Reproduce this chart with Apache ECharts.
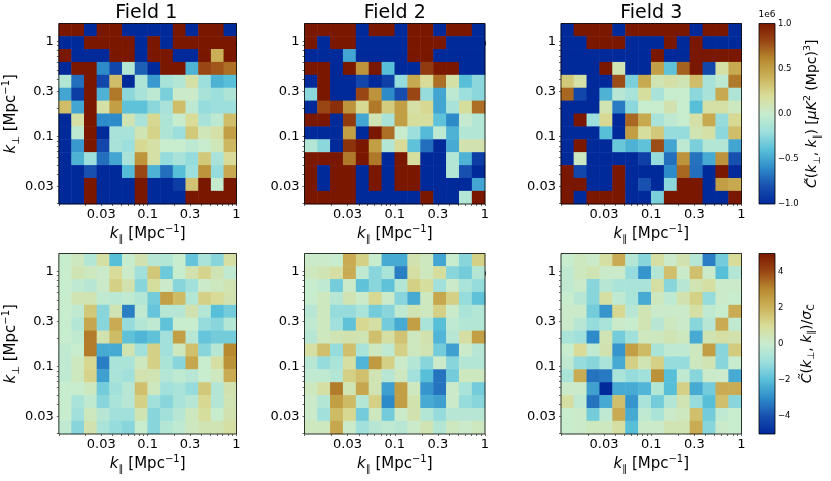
<!DOCTYPE html>
<html>
<head>
    <meta charset="utf-8">
    <script src="https://cdn.jsdelivr.net/npm/echarts@6/dist/echarts.min.js"></script>
    <style>
        html, body { margin: 0; padding: 0; background: #fff; }
        #main { width: 831px; height: 481px; }
    </style>
</head>
<body>
<div id="main"></div>
<script type="text/javascript">
    // k bins (log10 ranges of the axes) and tick values
    var kParRange = [0.01, 1];
    var kPerpRange = [0.0196, 1.54];
    var kTicks = [0.03, 0.1, 0.3, 1];
    var fieldNames = ['Field 1', 'Field 2', 'Field 3'];
    var ampTicks = [-1, -0.5, 0, 0.5, 1];      // x 1e6
    var snrTicks = [-4, -2, 0, 2, 4];

    // C~(k_perp, k_par) in units of 1e6 uK^2 Mpc^3, rows from high k_perp to low
    var field1Amp = [
        [1, 1, -1, 1, 1, -1, -1, -1, -1, 1, -1, 1, 1, -1],
        [-1, -1, 1, 1, 1, 1, -1, 1, -1, 1, 1, 1, 1, 1],
        [1, -1, -1, -1, 1, 1, -1, 1, 1, -1, -1, 1, 0.42, 1],
        [-1, 1, 1, -0.6, -0.85, -0.1, -0.75, -1, 1, 1, -0.45, 0.8, 0.75, 0.68],
        [-0.1, -0.7, 1, -0.85, 0.35, -1, -0.12, -0.55, -0.15, -0.1, 0.15, -0.2, -0.45, -0.4],
        [-0.5, -0.9, 1, -0.45, 0.65, -0.25, -0.15, -0.05, -0.3, 0.02, 0.02, -0.15, -0.2, -0.12],
        [0.35, -0.5, 1, 0.15, 0.5, -0.38, -0.38, -0.25, -0.15, 0.35, -0.05, -0.22, -0.2, -0.2],
        [-1, 0.15, 1, -0.6, -0.6, 0.1, -0.15, 0.22, -0.12, 0, 0.2, -0.15, -0.05, 0.35],
        [-1, -0.05, 1, -1, -0.15, -0.15, 0.1, 0.25, -0.12, -0.2, 0.3, 0.08, 0.15, 0.5],
        [-1, -0.55, 1, -0.85, -0.15, -0.2, 0.22, 0.15, 0, 0, -0.05, 0, 0.08, 0.38],
        [-1, -0.45, -0.2, -0.7, -0.5, -0.15, 0.55, 0.15, -0.22, -0.15, -0.22, 0.3, -0.15, 0.2],
        [-1, -1, -0.8, -1, -1, -0.42, 0.8, -0.45, -0.7, -0.4, -0.2, 0.55, -0.22, 0.45],
        [-1, -1, 1, -1, -1, -1, 1, -1, -1, -0.9, 0.32, 1, -0.02, 1],
        [-1, -1, 1, -1, -1, -1, 1, -1, -1, -1, 1, 1, 1, 1]
    ];
    var field2Amp = [
        [1, 1, 1, 1, -1, 1, 1, -1, 1, 1, -1, 1, 1, -1],
        [1, -1, 1, 1, -1, -1, -1, -1, 1, 1, 1, -1, -1, -1],
        [-1, -1, -1, -0.5, -1, -1, -1, -1, 1, 1, -1, -1, -1, -1],
        [1, 1, -1, 1, 0.55, 1, -0.4, -1, -1, 0.85, 1, 1, -1, -1],
        [-1, 1, -1, -1, -0.85, -1, -0.88, -0.22, 0.45, 0.2, 0.68, 0.15, -0.4, -0.25],
        [-0.25, 1, -1, -1, 0.8, 0.55, -0.6, -0.82, 0.8, -0.22, -0.5, -0.05, -0.2, -0.25],
        [-1, 0.8, 0.9, 0.55, 0.22, 0.65, 0.28, 0.5, 0.15, 0.22, -0.5, -0.15, 0.18, 0.68],
        [1, 1, -1, 0.85, -0.5, 0.1, -0.15, 0.5, 0.18, 0.18, -0.38, -0.6, -0.02, -0.1],
        [-1, -1, -1, 0.5, -1, 1, 0.68, 0, -0.2, -0.42, -0.05, -0.45, -0.1, -0.1],
        [-0.1, -0.25, -1, 0.88, 1, 0.5, -0.1, 0.2, -0.38, -0.7, -1, -0.48, 0.12, 0.12],
        [1, 1, 1, 0.65, 1, 0.65, -1, 1, 0.18, -1, -1, -0.1, -0.45, -0.9],
        [1, -1, 1, 1, -1, 1, -1, 1, 1, -1, -1, -0.1, -0.8, -1],
        [1, -1, 1, 1, -1, 1, -1, 1, 1, -1, -1, -1, -1, -0.5],
        [1, 1, 1, 1, -1, -1, -1, -1, -1, 1, -1, -1, -0.1, 1]
    ];
    var field3Amp = [
        [-1, 1, 1, 1, -1, 1, 1, 1, 1, 1, -1, 1, 1, -1],
        [-1, -1, 1, 1, 1, -1, -1, -1, 1, -1, 1, -1, -1, -1],
        [-1, -1, -1, -1, -1, -1, -1, 1, -1, -1, 1, 1, 1, 1],
        [-1, -1, -1, 1, 0.1, -1, -1, 0.5, -0.38, 0.72, 1, -0.85, 0.15, 0.45],
        [0.3, 0.15, -1, -1, 0.78, -0.3, 0.45, 0.1, 0.15, 0.1, 0.35, -0.15, -0.05, 0.65],
        [0.7, -0.85, -1, -0.45, -0.08, -0.15, 0.18, -0.15, 0, 0, -0.25, -0.15, 0.45, -0.12],
        [-1, -1, -1, 0.1, -0.65, -0.25, 0, 0, 0.12, 0, -0.4, 0.15, 0.15, 0.05],
        [-1, 1, -0.2, 0.22, -1, 0.7, 0.45, -0.15, -0.05, 0, 0.15, 0.45, -0.22, 0.22],
        [-1, -1, -1, -0.4, -1, 0.5, 0.18, 0.3, -0.22, -0.22, 0.1, 0.15, -0.25, 0.35],
        [-1, 1, -1, -1, -0.35, -0.45, -0.38, 0.78, -0.5, -0.05, -0.3, -0.1, -0.1, -0.5],
        [-1, 0.05, -1, -1, -1, -1, -0.88, -0.22, -0.7, 0.55, -0.68, -0.48, 0.55, -0.8],
        [1, -0.85, -1, -1, 1, -1, -1, -1, -0.6, 0.7, -0.7, -1, 1, -1],
        [1, 1, -1, -1, 1, -1, -0.8, -1, -0.25, 1, 1, -1, 0.5, 0.45],
        [1, -1, 1, 1, 1, -1, -1, -0.3, 1, 1, 1, -1, -1, 1]
    ];

    // C~ / sigma
    var field1Snr = [
        [0, 0.3, -0.5, 0.8, -2, 0, 0.6, -0.4, -0.5, 0, -1.8, -0.7, -1.3, 0.8],
        [0, 0.5, 0.3, 0.1, 1.0, 0.1, -0.9, 1.5, -1.7, 0, 0.6, 1.2, 0.5, -0.2],
        [0, -0.2, -0.4, 0.1, 1.3, 0.6, -1.3, 0.9, 0.1, -1.3, -0.9, 0.1, 0.3, 0.5],
        [0, 0.5, 0.5, -0.2, -0.3, -0.2, -0.5, -1.6, 2.5, 1.8, -0.5, 1.3, 1.0, 0.6],
        [0, -0.2, 1.5, -1.3, 0.5, -3.2, -0.2, -1.8, -0.4, -0.4, 0.6, -0.5, -2, -1.6],
        [0, -0.5, 2.3, -1.3, 2.2, -1.1, -0.5, -0.2, -1.9, 0, 0, -1.1, -1.3, -0.5],
        [0, -0.2, 3.2, 0.6, 1.8, -1.9, -2.2, -1.9, -0.9, 2.5, -0.4, -1.8, -1.6, -1.6],
        [-0.2, 0, 3.2, -2.4, -2.4, 0.5, -0.9, 1.3, -0.9, 0.3, 1.7, -1.3, -0.4, 3.0],
        [-0.2, 0.3, 1.1, -3.2, -0.7, -0.7, 0.3, 1.3, -0.7, -1.3, 2.3, 0, 0.8, 2.8],
        [-0.2, 0.3, 1.2, -2.6, -0.7, -0.9, 0.6, 0.5, -0.5, -0.2, -0.4, 0, 0.3, 2.2],
        [0, 0, 0.3, -1.6, -0.9, -0.4, 1.7, 0.3, -0.9, -0.7, -1.1, 1.5, -0.5, 0.6],
        [0, -0.7, -0.2, -1.3, -0.7, -0.4, 1.3, -0.9, -1.3, -0.7, -0.4, 1.1, -0.5, 0.5],
        [0, -0.9, 0.3, -0.4, -0.9, -0.9, 0.5, -1.3, -0.9, -0.4, 0.3, 0.9, 0, 0.6],
        [-0.2, -1.3, 0.6, -0.7, -1.1, -1.3, 0, -1.3, -0.5, -0.2, 0.3, 0.5, 0.5, 0.8]
    ];
    var field2Snr = [
        [0.1, 0.1, 0, 2.2, 1.3, 0, -2.4, -2.4, 0.6, 0.3, -2.5, 0, -1.3, 1.3],
        [0.3, 0.5, 0.8, 2.2, -0.2, -1.3, -0.7, -3.2, 0.8, 0.3, 0.9, -1.3, -1.6, -0.5],
        [0, -0.2, -1.6, 0.1, -1.9, -1.3, -1.9, -0.5, 1.3, 0.9, -0.9, 0.1, -0.7, -1.1],
        [0, 0.3, -0.4, 0.5, 0.1, 1.1, 0.1, -1.3, -2.4, 0.3, 2.3, 1.3, -1.1, -1.9],
        [-0.4, 0.3, -1.1, -1.1, -0.7, -1.6, -1.3, -0.2, 0.5, 0.3, 1.3, 0.1, -0.7, -0.5],
        [-0.2, 0.3, -0.9, -1.9, 1.1, 0.8, -1.6, -2.4, 2.5, -0.7, -2, -0.2, -0.5, -0.5],
        [-0.4, 0.3, 0.5, 0.6, 0.5, 1.7, 0.8, 1.6, 0.3, 0.6, -2.2, -0.4, 0.8, 2.5],
        [0.8, 1.7, -1.1, 1.7, -0.7, 0.3, -0.2, 1.3, 0.3, 0.5, -1.6, -2.6, 0.1, -0.4],
        [-0.4, -1.1, -0.7, 0.8, -2.2, 2.6, 1.3, 0.1, -0.5, -1.3, 0.1, -1.3, -0.5, -0.5],
        [-0.2, -0.2, -0.5, 1.3, 1.7, 0.5, -0.4, 0.3, -0.9, -2, -3.4, -1.6, 0.3, 0.3],
        [0.3, 0.8, 3.2, 0.5, 2.3, 0.5, -2.6, 2.5, 0.3, -2.8, -3.4, 0.1, -0.7, -1.6],
        [0.1, -0.5, 2.5, 1.8, -0.5, 1.3, -3.0, 2.5, 0.6, -2.4, -2.6, 0.1, -1.1, -1.3],
        [0.1, -0.9, 1.8, 1.1, -1.6, 0.3, -1.6, 0.1, 0.6, -0.5, -1.1, -0.4, -0.4, -0.4],
        [0.3, 0.3, 2.3, 0.1, -0.9, -0.4, -0.2, -0.4, 0.1, 0.5, -0.5, 0.3, 0.1, 0.3]
    ];
    var field3Snr = [
        [0, 0.3, 0.1, 0.8, 2.2, -0.5, -1.3, 0.8, 0.1, 0.6, -0.4, -3.2, -1.6, 1.0],
        [-0.2, 0.3, 0.5, 0.1, 0.1, -1.1, -2.8, -0.5, 1.7, 0.1, 1.7, 0.1, -2, -0.5],
        [-0.2, 0.1, -1.3, -0.4, -0.7, -0.7, -0.7, 0.8, -1.3, -0.4, 0.5, 0.8, 0.1, 0.1],
        [0, -0.4, -1.3, 0.8, -0.2, -0.7, -2.4, 0.3, -0.2, 0.6, 1.3, -1.1, 0.1, 0],
        [0.1, 0.1, -1.6, -2.8, 1.1, -0.4, 0.5, 0.1, 0.1, 0.1, 0.8, -0.2, 0, 2.2],
        [0.1, -0.4, -1.1, -0.7, 0.1, 0, 0.5, -0.4, 0.3, 0.1, -1.3, -0.4, 2.2, -0.2],
        [-0.7, -0.9, -3.0, 0.5, -1.6, -0.9, 0.3, 0.3, 0.5, 0.3, -2.4, 0.5, 0.8, 0.6],
        [0, 1.0, -0.2, 0.6, -2.8, 2.5, 1.8, -0.7, -0.2, -0.2, 0.3, 2.5, -1.3, 1.4],
        [-0.2, -1.1, -1.3, -0.7, -2.4, 1.3, 0.5, 1.3, -1.1, -1.1, 0.3, 0.5, -1.3, 0],
        [-0.7, 2.2, -3.4, -3.3, -0.7, -1.1, -0.9, 2.8, -2, -0.2, -1.3, 0.1, 0.1, -2.4],
        [0.1, 0.1, -2.6, -5, -2.4, -2.4, -2.2, -0.5, -2, 1.3, -2.4, -1.6, 2.2, 2.2],
        [0.8, -0.2, -3.4, -2.4, 1.7, -2.8, -0.7, -1.6, -0.5, 0.5, -1.1, -2, 1.7, -1.3],
        [0, 0.1, -1.6, -0.2, 2.2, -2.4, -0.2, -0.7, 0.1, 0.3, 1.7, -1.6, -0.2, 0],
        [0, 0.1, 0.3, 0.3, 0.8, -2, 0.1, 0.1, 0.5, 0.5, 2.2, -1.3, 0.1, 0]
    ];

    var panels = [field1Amp, field2Amp, field3Amp, field1Snr, field2Snr, field3Snr];

    var font = 'DejaVu Sans';
    var cmap = ['#00299a', '#1850b0', '#2e8bc9', '#58bfd9', '#9ddfdc', '#c8ecce',
                '#d8dc98', '#ccb35a', '#b88a30', '#994614', '#7a1700'];

    var lg = function (v) { return Math.log10(v); };
    var majorTicks = kTicks.map(lg);
    function minorTicks(lo, hi) {
        var out = [];
        for (var e = -3; e <= 1; e++) {
            for (var m = 1; m < 10; m++) {
                var l = lg(m * Math.pow(10, e));
                if (l >= lo - 1e-9 && l <= hi + 1e-9) out.push(l);
            }
        }
        return out;
    }
    function kFmt(v) {
        return String(Math.round(Math.pow(10, v) * 100) / 100);
    }
    function minus(s) { return String(s).replace('-', '\u2212'); }

    var rich = {
        i: {fontFamily: font, fontStyle: 'italic', fontSize: 15, color: '#000'},
        s: {fontFamily: font, fontSize: 10, verticalAlign: 'bottom', lineHeight: 20, color: '#000'},
        sup: {fontFamily: font, fontSize: 10, verticalAlign: 'top', lineHeight: 20, color: '#000'}
    };
    var nameStyle = {fontFamily: font, fontSize: 15, color: '#000', lineHeight: 20, rich: rich};

    var cats = [];
    for (var i = 0; i < 14; i++) cats.push(i);

    var lefts = [56, 304.5, 561];
    var tops = [23.5, 253.5];
    var size = 180.5;

    var grids = [], xAxes = [], yAxes = [], series = [], graphics = [];

    for (var p = 0; p < 6; p++) {
        var row = p < 3 ? 0 : 1, col = p % 3;
        grids.push({
            left: lefts[col], top: tops[row], width: size, height: size,
            show: true, borderColor: '#000', borderWidth: 0.8,
            backgroundColor: 'transparent', z: 10
        });
        var xr = [lg(kParRange[0]), lg(kParRange[1])];
        var yr = [lg(kPerpRange[0]), lg(kPerpRange[1])];

        xAxes.push({type: 'category', gridIndex: p, data: cats, show: false});
        xAxes.push({
            type: 'value', gridIndex: p, position: 'bottom', min: xr[0], max: xr[1],
            axisLine: {show: false}, splitLine: {show: false},
            axisTick: {customValues: majorTicks, length: 4, lineStyle: {color: '#000', width: 0.8}},
            axisLabel: {customValues: majorTicks, formatter: kFmt, fontFamily: font, fontSize: 13, color: '#000', margin: 4},
            name: '{i|k}{s|\u2225} [Mpc{sup|\u22121}]', nameLocation: 'middle', nameGap: 20,
            nameTextStyle: nameStyle
        });
        xAxes.push({
            type: 'value', gridIndex: p, position: 'bottom', min: xr[0], max: xr[1],
            axisLine: {show: false}, splitLine: {show: false}, axisLabel: {show: false},
            axisTick: {customValues: minorTicks(xr[0], xr[1]), length: 2, lineStyle: {color: '#000', width: 0.6}}
        });

        yAxes.push({type: 'category', gridIndex: p, data: cats, show: false});
        yAxes.push({
            type: 'value', gridIndex: p, position: 'left', min: yr[0], max: yr[1],
            axisLine: {show: false}, splitLine: {show: false},
            axisTick: {customValues: majorTicks, length: 4, lineStyle: {color: '#000', width: 0.8}},
            axisLabel: {customValues: majorTicks, formatter: kFmt, fontFamily: font, fontSize: 13, color: '#000', margin: 5},
            name: col === 0 ? '{i|k}{s|\u22a5} [Mpc{sup|\u22121}]' : '',
            nameLocation: 'middle', nameGap: 34, nameRotate: 90,
            nameTextStyle: nameStyle
        });
        yAxes.push({
            type: 'value', gridIndex: p, position: 'left', min: yr[0], max: yr[1],
            axisLine: {show: false}, splitLine: {show: false}, axisLabel: {show: false},
            axisTick: {customValues: minorTicks(yr[0], yr[1]), length: 2, lineStyle: {color: '#000', width: 0.6}}
        });

        var data = [];
        var vals = panels[p];
        for (var r = 0; r < vals.length; r++) {
            for (var c = 0; c < vals[r].length; c++) {
                data.push([c, vals.length - 1 - r, vals[r][c]]);
            }
        }
        series.push({
            type: 'heatmap', xAxisIndex: 3 * p, yAxisIndex: 3 * p,
            data: data, emphasis: {disabled: true}, progressive: 0, animation: false
        });
    }

    for (var p = 0; p < 3; p++) {
        graphics.push({
            type: 'text', x: lefts[p] + size / 2, y: 13,
            style: {text: fieldNames[p], align: 'center', verticalAlign: 'middle',
                    font: '19px "DejaVu Sans"', fill: '#000'}
        });
    }

    // colour bars
    var cbStops = cmap.map(function (c, k) { return {offset: k / (cmap.length - 1), color: c}; });
    var cbDefs = [
        {top: tops[0], lo: ampTicks[0], hi: ampTicks[ampTicks.length - 1], ticks: ampTicks,
         fmt: function (v) { return minus(v.toFixed(1)); },
         name: '{i|C\u0303}({i|k}{s|\u22a5}, {i|k}{s|\u2225}) [{i|\u03bcK}{sup|2} (Mpc){sup|3}]', gap: 26},
        {top: tops[1], lo: -5, hi: 5, ticks: snrTicks,
         fmt: function (v) { return minus(v); },
         name: '{i|C\u0303}({i|k}{s|\u22a5}, {i|k}{s|\u2225})/{i|\u03c3}{s|C\u0303}', gap: 22}
    ];
    cbDefs.forEach(function (d, k) {
        var gi = 6 + k;
        grids.push({left: 759, top: d.top, width: 16, height: size});
        xAxes.push({type: 'category', gridIndex: gi, data: [''], show: false});
        yAxes.push({
            type: 'value', gridIndex: gi, position: 'right', min: d.lo, max: d.hi,
            axisLine: {show: false}, splitLine: {show: false},
            axisTick: {customValues: d.ticks, length: 3, lineStyle: {color: '#000', width: 0.7}},
            axisLabel: {customValues: d.ticks, formatter: d.fmt, fontFamily: font, fontSize: 8.5, color: '#000', margin: 3},
            name: d.name, nameLocation: 'middle', nameRotate: 90, nameGap: d.gap,
            nameTextStyle: {fontFamily: font, fontSize: 14, color: '#000', lineHeight: 20,
                            rich: {
                                i: {fontFamily: font, fontStyle: 'italic', fontSize: 14, color: '#000'},
                                s: {fontFamily: font, fontSize: 9.5, verticalAlign: 'bottom', lineHeight: 20, color: '#000'},
                                sup: {fontFamily: font, fontSize: 9.5, verticalAlign: 'top', lineHeight: 20, color: '#000'}
                            }}
        });
        series.push({
            type: 'custom', xAxisIndex: 18 + k, yAxisIndex: 18 + k,
            data: [[0, d.lo, d.hi]], animation: false, silent: true,
            renderItem: function (params, api) {
                var p0 = api.coord([0, api.value(1)]);
                var p1 = api.coord([0, api.value(2)]);
                var w = api.size([1, 0])[0];
                return {
                    type: 'rect',
                    shape: {x: p0[0] - w / 2, y: p1[1], width: w, height: p0[1] - p1[1]},
                    style: {fill: new echarts.graphic.LinearGradient(0, 1, 0, 0, cbStops),
                            stroke: '#000', lineWidth: 0.8}
                };
            }
        });
    });
    graphics.push({
        type: 'text', x: 767, y: 19,
        style: {text: '1e6', align: 'center', verticalAlign: 'bottom', font: '9px "DejaVu Sans"', fill: '#000'}
    });

    var myChart = echarts.init(document.getElementById('main'), null, {renderer: 'canvas'});
    var option = {
        animation: false,
        backgroundColor: '#fff',
        grid: grids,
        xAxis: xAxes,
        yAxis: yAxes,
        visualMap: [
            {type: 'continuous', show: false, min: -1, max: 1, dimension: 2,
             seriesIndex: [0, 1, 2], inRange: {color: cmap}},
            {type: 'continuous', show: false, min: -5, max: 5, dimension: 2,
             seriesIndex: [3, 4, 5], inRange: {color: cmap}}
        ],
        graphic: graphics,
        series: series
    };
    myChart.setOption(option);
</script>
</body>
</html>
